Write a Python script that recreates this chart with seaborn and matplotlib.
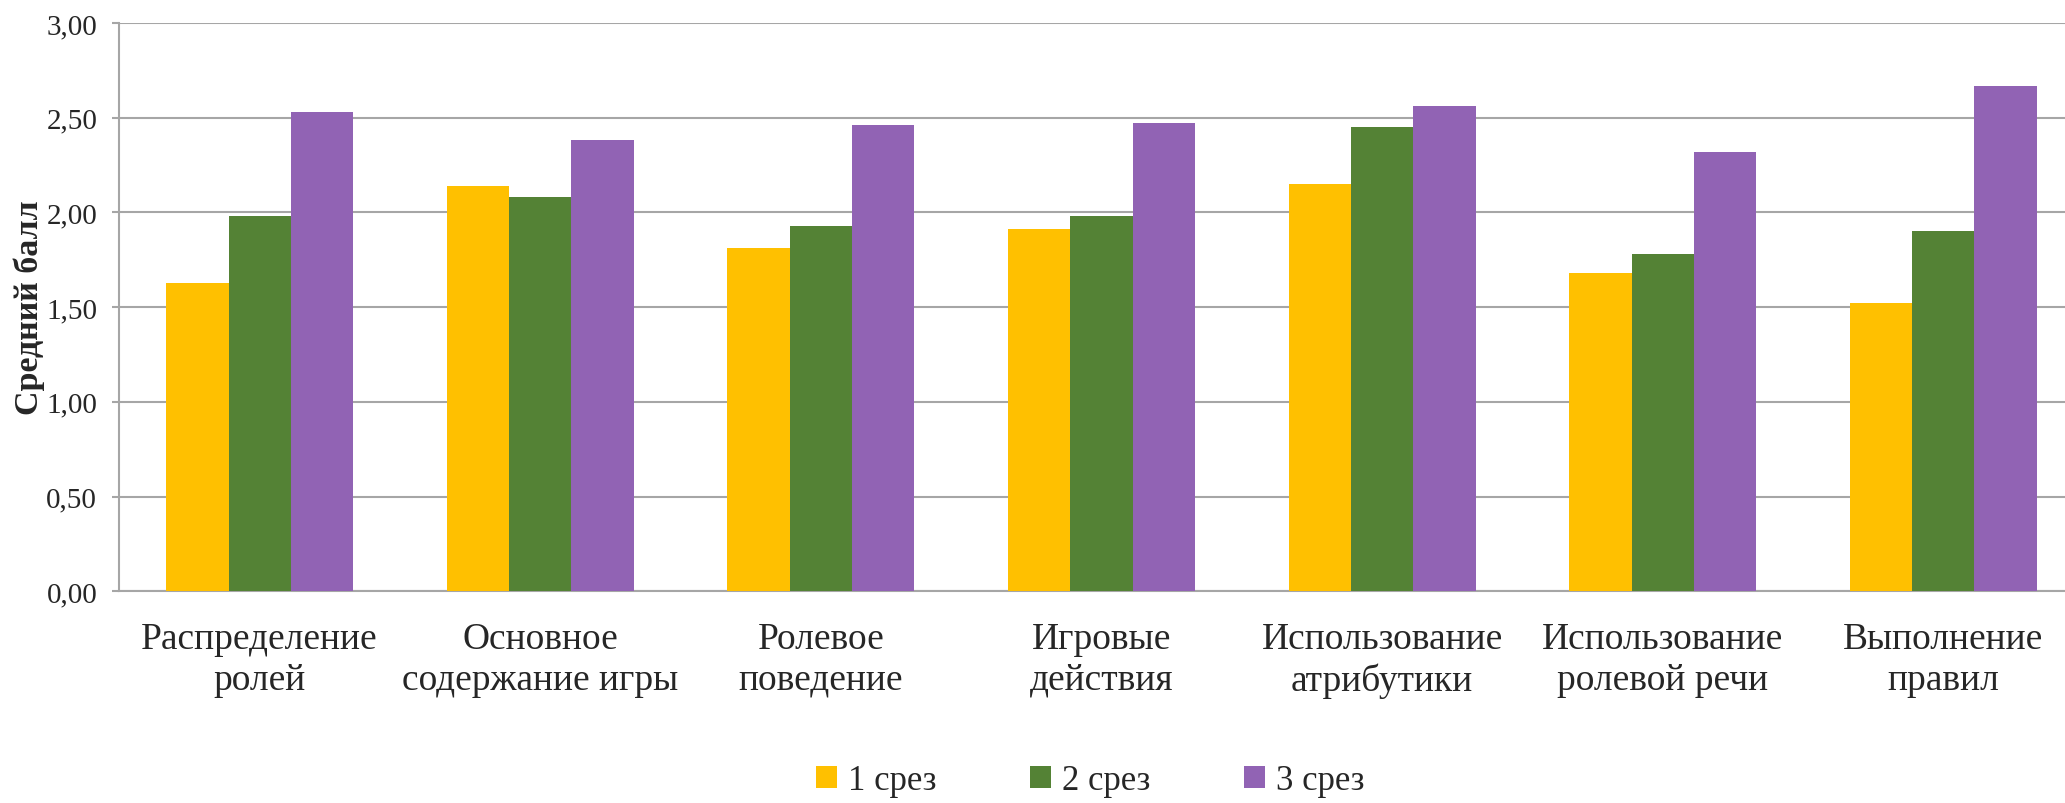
import numpy as np
import pandas as pd
import matplotlib
matplotlib.use("Agg")
import matplotlib.pyplot as plt
import seaborn as sns
from matplotlib.ticker import FuncFormatter, MultipleLocator

categories = [
    "Распределение\nролей",
    "Основное\nсодержание игры",
    "Ролевое\nповедение",
    "Игровые\nдействия",
    "Использование\nатрибутики",
    "Использование\nролевой речи",
    "Выполнение\nправил",
]
series_names = ["1 срез", "2 срез", "3 срез"]
slice1 = [1.63, 2.14, 1.81, 1.91, 2.15, 1.68, 1.52]
slice2 = [1.98, 2.08, 1.93, 1.98, 2.45, 1.78, 1.90]
slice3 = [2.53, 2.38, 2.46, 2.47, 2.56, 2.32, 2.67]
colors = ["#FFC000", "#548235", "#9163B4"]

df = pd.DataFrame({
    "category": categories * 3,
    "series": np.repeat(series_names, len(categories)),
    "value": slice1 + slice2 + slice3,
})

sns.set_theme(style="white")
plt.rcParams["font.family"] = ["Liberation Serif", "DejaVu Serif"]

fig = plt.figure(figsize=(20.65, 8.04), dpi=100)
# the plot area runs slightly past the right edge of the canvas
ax = fig.add_axes([0.0578, 0.2634, 0.9512, 0.7067])

sns.barplot(data=df, x="category", y="value", hue="series", order=categories,
            hue_order=series_names, palette=colors, width=0.666,
            saturation=1, errorbar=None, linewidth=0, ax=ax, zorder=3)

ax.set_ylim(0, 3.0)
ax.set_xlim(-0.5, len(categories) - 0.5)
ax.yaxis.set_major_locator(MultipleLocator(0.5))
ax.yaxis.set_major_formatter(FuncFormatter(lambda v, p: f"{v:.2f}".replace(".", ",")))
ax.grid(axis="y", color="#A6A6A6", linewidth=1.5, zorder=0)
ax.set_axisbelow(True)

for side in ["top", "right"]:
    ax.spines[side].set_visible(False)
for side in ["left", "bottom"]:
    ax.spines[side].set_color("#A6A6A6")
    ax.spines[side].set_linewidth(1.5)

ax.tick_params(axis="y", which="major", left=True, length=5, width=1.5,
               color="#A6A6A6", labelsize=21, pad=11)
ax.tick_params(axis="x", bottom=False, labelsize=27, pad=16)
for lab in ax.get_xticklabels():
    lab.set_linespacing(1.23)

ax.set_xlabel("")
ax.set_ylabel("Средний балл", fontsize=24.5, fontweight="bold", labelpad=1)

ax.legend_.remove()
handles, labels = ax.get_legend_handles_labels()
fig.legend(handles, labels, loc="center", bbox_to_anchor=(0.528, 0.0274), ncol=3,
           frameon=False, fontsize=25, handlelength=0.6, handleheight=0.6,
           handletextpad=0.32, columnspacing=2.7, borderpad=0)

fig.savefig("out.png", dpi=100)
